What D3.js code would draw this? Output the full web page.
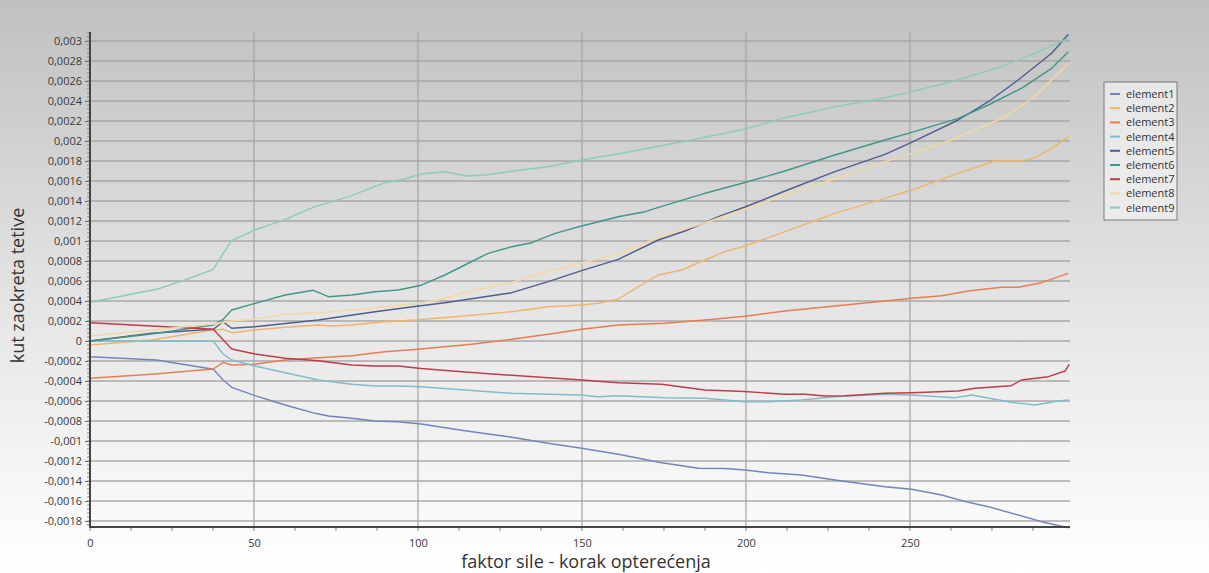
<!DOCTYPE html>
<html>
<head>
<meta charset="utf-8">
<script src="https://cdn.jsdelivr.net/npm/d3@7"></script>
<style>
  html, body { margin: 0; padding: 0; background: #fff; }
  svg { display: block; }
  text { font-family: "Open Sans", "Noto Sans", "DejaVu Sans", sans-serif; }
</style>
</head>
<body>
<svg id="chart" width="1209" height="573"></svg>
<script>
// ---------- data (x = load step, y = chord rotation) ----------
const seriesNames = ["element1","element2","element3","element4","element5","element6","element7","element8","element9"];
const seriesColors = ["#7086bb","#f0b46c","#e97c55","#80bccb","#505d8e","#42968a","#bf3c4d","#f5d7a2","#8bcdb6"];

const element1 = [[0,-0.000157],[20.3,-0.00019],[37.6,-0.000283],[40.6,-0.00039],[43.2,-0.000463],[50.3,-0.000547],[59.5,-0.00064],[68.6,-0.000723],[72.7,-0.00075],[79.8,-0.000773],[86.9,-0.0008],[94,-0.000807],[101,-0.00083],[114.3,-0.000897],[128.6,-0.000963],[139.7,-0.001023],[149.9,-0.001073],[161.1,-0.001133],[174.3,-0.001217],[185.5,-0.001273],[193.6,-0.001275],[199.7,-0.00129],[206.8,-0.001317],[217,-0.00134],[227.1,-0.00139],[242.4,-0.001457],[250.5,-0.001483],[259.7,-0.00154],[267.8,-0.001613],[273.9,-0.001657],[283,-0.00174],[290.1,-0.001807],[298.3,-0.001867]];
const element2 = [[0,-0.00004],[18.8,0.00001],[37.6,0.00011],[40.6,0.000117],[43.2,0.000083],[50.3,0.00011],[59.5,0.000137],[69.6,0.00016],[73.7,0.00015],[79.8,0.00016],[89.9,0.000193],[99,0.00021],[111.3,0.000243],[128.6,0.000293],[139.7,0.000343],[149.9,0.00036],[154.9,0.000377],[161.1,0.00042],[167.2,0.000543],[173.3,0.00066],[180.4,0.00071],[187.5,0.00081],[193.6,0.000893],[199.7,0.00095],[211.9,0.001093],[227.1,0.001277],[242.4,0.001427],[250.5,0.00151],[264.7,0.001677],[275.9,0.0018],[284,0.0018],[288.1,0.001833],[293.2,0.001927],[298.3,0.002043]];
const element3 = [[0,-0.000373],[18.8,-0.000333],[37.6,-0.00028],[40.6,-0.000213],[43.2,-0.00024],[50.3,-0.000233],[59.5,-0.00019],[69.6,-0.000167],[79.8,-0.000147],[89.9,-0.000107],[99,-0.000085],[116.4,-0.000033],[128.6,0.000017],[139.7,0.000067],[149.9,0.000117],[161.1,0.00016],[175.3,0.000177],[187.5,0.00021],[199.7,0.000247],[211.9,0.0003],[227.1,0.00035],[242.4,0.0004],[250.5,0.000427],[259.7,0.000453],[267.8,0.0005],[278,0.000537],[283,0.000537],[290.1,0.000583],[298.3,0.000677]];
const element4 = [[0,0.0],[18.8,0.0],[37.6,-0.000003],[40.6,-0.00013],[43.2,-0.00019],[50.3,-0.00025],[59.5,-0.000317],[69.6,-0.00039],[79.8,-0.000433],[86.9,-0.00045],[94,-0.00045],[101,-0.000457],[114.3,-0.00049],[128.6,-0.000523],[139.7,-0.000533],[149.9,-0.00054],[154.9,-0.000557],[161.1,-0.000547],[175.3,-0.000567],[187.5,-0.000573],[199.7,-0.000608],[206.8,-0.000607],[217,-0.00059],[227.1,-0.000557],[242.4,-0.000533],[250.5,-0.00054],[263.7,-0.000567],[268.8,-0.00054],[280.9,-0.000613],[288.1,-0.00064],[295.2,-0.0006],[298.3,-0.00059]];
const element5 = [[0,0.0],[18.8,0.000077],[37.6,0.000117],[40.6,0.000193],[43.2,0.000127],[50.3,0.000143],[69.6,0.00021],[86.9,0.000293],[99,0.000345],[108.2,0.000383],[120.4,0.000443],[128.6,0.000483],[139.7,0.000593],[149.9,0.000703],[161.1,0.000817],[173.3,0.00101],[181.4,0.0011],[191.6,0.001243],[199.7,0.00134],[211.9,0.0015],[227.1,0.001693],[242.4,0.001867],[250.5,0.001987],[264.7,0.00221],[273.9,0.002393],[283,0.00261],[293.2,0.002877],[298.3,0.003067]];
const element6 = [[0,0.0],[18.8,0.00007],[37.6,0.00016],[40.6,0.000217],[43.2,0.00031],[50.3,0.000377],[59.5,0.00046],[68.1,0.000507],[72.7,0.000443],[79.8,0.00046],[86.9,0.000493],[94,0.00051],[101,0.000558],[108.2,0.00066],[114.3,0.00076],[121.4,0.000877],[128.6,0.000943],[134.7,0.000983],[141.8,0.001077],[149.9,0.00115],[161.1,0.001243],[169.2,0.001293],[177.3,0.001377],[187.5,0.001477],[199.7,0.001585],[211.9,0.0017],[227.1,0.00186],[242.4,0.00201],[250.5,0.002087],[264.7,0.002227],[273.9,0.00236],[284,0.002527],[293.2,0.002727],[298.3,0.002893]];
const element7 = [[0,0.000183],[37.6,0.000117],[43.2,-0.00008],[50.3,-0.00013],[59.5,-0.000173],[69.6,-0.000197],[79.8,-0.00024],[86.9,-0.00025],[94,-0.00025],[101,-0.000275],[114.3,-0.00031],[128.6,-0.000343],[139.7,-0.000367],[149.9,-0.00039],[161.1,-0.000417],[174.3,-0.000433],[187.5,-0.00049],[199.7,-0.000505],[211.9,-0.000533],[218,-0.000533],[224.1,-0.00055],[230.2,-0.000547],[242.4,-0.000523],[250.5,-0.000517],[264.7,-0.0005],[269.8,-0.000473],[280.9,-0.000447],[284,-0.00039],[292.2,-0.000357],[297.3,-0.0003],[298.6,-0.000233]];
const element8 = [[0,0.00005],[37.6,0.00017],[43.2,0.0002],[50.3,0.000217],[59.5,0.000267],[69.6,0.000283],[79.8,0.00031],[89.9,0.000343],[99,0.000372],[106.2,0.00041],[116.4,0.000503],[128.6,0.000583],[136.7,0.00067],[149.9,0.000783],[161.1,0.00087],[175.3,0.00106],[184.5,0.00115],[199.7,0.00132],[211.9,0.00146],[227.1,0.00162],[242.4,0.001793],[250.5,0.001877],[262.7,0.00201],[278,0.002227],[288.1,0.002443],[298.3,0.002777]];
const element9 = [[0,0.000387],[20.3,0.000517],[28.9,0.00061],[37.6,0.000717],[40.6,0.000877],[43.2,0.001003],[50.3,0.00111],[59.5,0.001217],[68.6,0.001343],[79.8,0.001453],[89.9,0.001583],[96,0.00162],[101,0.00167],[108.2,0.001693],[114.8,0.00165],[120.4,0.00166],[129.6,0.001703],[139.7,0.001743],[149.9,0.00181],[162.1,0.001877],[175.3,0.00196],[187.5,0.002037],[199.7,0.00212],[211.9,0.002233],[227.1,0.002343],[242.4,0.002433],[250.5,0.002493],[262.7,0.002593],[278,0.002743],[288.1,0.002877],[298.3,0.003027]];

const seriesValues = [element1, element2, element3, element4, element5, element6, element7, element8, element9];

const xTickValues = [0, 50, 100, 150, 200, 250];
const yTickValues = [-0.0018,-0.0016,-0.0014,-0.0012,-0.001,-0.0008,-0.0006,-0.0004,-0.0002,0,0.0002,0.0004,0.0006,0.0008,0.001,0.0012,0.0014,0.0016,0.0018,0.002,0.0022,0.0024,0.0026,0.0028,0.003];
const xDomain = [0, 298.8];
const yDomain = [-0.00186, 0.00309];
const xTitle = "faktor sile - korak opterećenja";
const yTitle = "kut zaokreta tetive";

// ---------- layout ----------
const W = 1209, H = 573;
const plot = { left: 90, right: 1070, top: 32, bottom: 527 };

const svg = d3.select("#chart");
const defs = svg.append("defs");
const bg = defs.append("linearGradient").attr("id", "bgGrad")
  .attr("x1", 0).attr("y1", 0).attr("x2", 0).attr("y2", 1);
bg.append("stop").attr("offset", "0%").attr("stop-color", "#c0c0c0");
bg.append("stop").attr("offset", "55%").attr("stop-color", "#e6e6e6");
bg.append("stop").attr("offset", "100%").attr("stop-color", "#ffffff");

svg.append("rect").attr("x", 0).attr("y", 0).attr("width", W).attr("height", H).attr("fill", "url(#bgGrad)");

const x = d3.scaleLinear().domain(xDomain).range([plot.left, plot.right]);
const y = d3.scaleLinear().domain(yDomain).range([plot.bottom, plot.top]);

// gridlines
const grid = svg.append("g");
grid.selectAll("line.h").data(yTickValues).join("line")
  .attr("x1", plot.left).attr("x2", plot.right)
  .attr("y1", d => y(d)).attr("y2", d => y(d))
  .attr("stroke", "#a4a4a4").attr("stroke-opacity", 0.7).attr("stroke-width", 2);
grid.selectAll("line.v").data(xTickValues.filter(d => d > 0)).join("line")
  .attr("x1", d => x(d)).attr("x2", d => x(d))
  .attr("y1", plot.top).attr("y2", plot.bottom)
  .attr("stroke", "#a4a4a4").attr("stroke-opacity", 0.6).attr("stroke-width", 2);

// lines
const line = d3.line().x(d => x(d[0])).y(d => y(d[1]));
const lines = svg.append("g");
seriesValues.forEach((s, i) => {
  lines.append("path").datum(s)
    .attr("d", line)
    .attr("fill", "none")
    .attr("stroke", seriesColors[i])
    .attr("stroke-width", 1.4)
    .attr("stroke-linejoin", "round");
});

// axes
const fmt = v => v === 0 ? "0" : String(+v.toFixed(4)).replace(".", ",");
const yAxis = d3.axisLeft(y).tickValues(yTickValues).tickFormat(fmt).tickSize(5).tickPadding(3);
const yg = svg.append("g").attr("transform", `translate(${plot.left},0)`).call(yAxis);
yg.select(".domain").remove();
yg.selectAll("text").attr("font-size", 11).attr("fill", "#3a3a3a");
yg.selectAll("line").attr("stroke", "#666");
// minor y ticks
const yMinor = d3.range(-0.00184, 0.00309, 0.00004);
svg.append("g").selectAll("line").data(yMinor).join("line")
  .attr("x1", plot.left - 3).attr("x2", plot.left)
  .attr("y1", d => y(d)).attr("y2", d => y(d))
  .attr("stroke", "#888").attr("stroke-width", 1);
svg.append("line").attr("x1", plot.left).attr("x2", plot.left)
  .attr("y1", plot.top).attr("y2", plot.bottom + 1)
  .attr("stroke", "#444").attr("stroke-width", 2);

const xAxis = d3.axisBottom(x).tickValues(xTickValues).tickFormat(d3.format("d")).tickSize(0).tickPadding(12);
const xg = svg.append("g").attr("transform", `translate(0,${plot.bottom})`).call(xAxis);
xg.select(".domain").remove();
xg.selectAll("text").attr("font-size", 11).attr("fill", "#3a3a3a");
const xMinor = d3.range(0, 299, 12.5);
svg.append("g").selectAll("line").data(xMinor).join("line")
  .attr("x1", d => x(d)).attr("x2", d => x(d))
  .attr("y1", plot.bottom).attr("y2", plot.bottom + 4)
  .attr("stroke", "#888").attr("stroke-width", 1);
svg.append("line").attr("x1", plot.left - 1).attr("x2", plot.right)
  .attr("y1", plot.bottom).attr("y2", plot.bottom)
  .attr("stroke", "#444").attr("stroke-width", 2);

// titles
svg.append("text").attr("x", (plot.left + plot.right) / 2 + 6).attr("y", 568)
  .attr("text-anchor", "middle").attr("font-size", 18).attr("fill", "#333").text(xTitle);
svg.append("text").attr("transform", `translate(24,${(plot.top + plot.bottom) / 2 + 6}) rotate(-90)`)
  .attr("text-anchor", "middle").attr("font-size", 18).attr("fill", "#333").text(yTitle);

// legend
const lg = svg.append("g").attr("transform", "translate(1104,82)");
lg.append("rect").attr("x", 0).attr("y", 0).attr("width", 73).attr("height", 138)
  .attr("fill", "#f4f4f4").attr("fill-opacity", 0.7).attr("stroke", "#7a7a7a").attr("stroke-width", 1);
seriesNames.forEach((n, i) => {
  const yy = 12 + i * 14.2;
  lg.append("line").attr("x1", 6).attr("x2", 16).attr("y1", yy).attr("y2", yy)
    .attr("stroke", seriesColors[i]).attr("stroke-width", 2);
  lg.append("text").attr("x", 22).attr("y", yy + 4).attr("font-size", 11).attr("fill", "#333").text(n);
});
</script>
</body>
</html>
